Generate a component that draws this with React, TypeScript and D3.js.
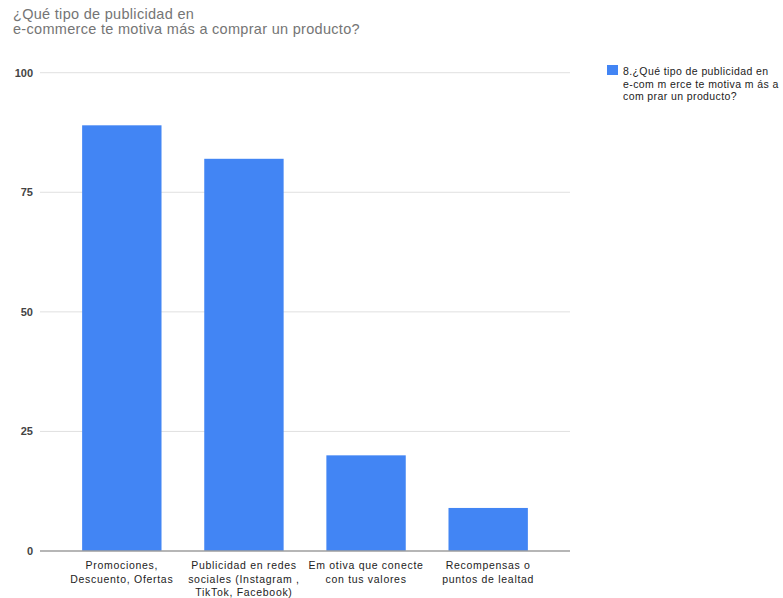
import React from "react";
import * as d3 from "d3";

const categories: string[][] = [
  ["Promociones,", "Descuento, Ofertas"],
  ["Publicidad en redes", "sociales (Instagram ,", "TikTok, Facebook)"],
  ["Em otiva que conecte", "con tus valores"],
  ["Recompensas o", "puntos de lealtad"],
];
const values: number[] = [89, 82, 20, 9];
const yTicks: number[] = [0, 25, 50, 75, 100];
const titleLines: string[] = ["¿Qué tipo de publicidad en", "e-commerce te motiva más a comprar un producto?"];
const legendLines: string[] = ["8.¿Qué tipo de publicidad en", "e-com m erce te motiva m ás a", "com prar un producto?"];

const W = 783;
const H = 598;
const FONT = "'Liberation Sans', Arial, sans-serif";

export default function App() {
  const x = d3
    .scaleBand<number>()
    .domain(values.map((_, i) => i))
    .range([40, 570])
    .paddingInner(0.35)
    .paddingOuter(0.345);
  const y = d3.scaleLinear().domain([0, 100]).range([551, 72.7]);

  return (
    <svg
      width={W}
      height={H}
      style={{ position: "absolute", left: 0, top: 0, background: "#fff" }}
    >
      <rect x={0} y={0} width={W} height={H} fill="#fff" />
      {titleLines.map((t, i) => (
        <text key={i} x={13} y={19 + i * 15} fontFamily={FONT} fontSize={14.5} fill="#757575" letterSpacing={0.3}>
          {t}
        </text>
      ))}
      {yTicks.map((t) => (
        <g key={t}>
          {t !== 0 && (
            <line x1={40} x2={570} y1={y(t)} y2={y(t)} stroke="#e0e0e0" strokeWidth={1} />
          )}
          <text
            x={33}
            y={y(t) + 4}
            textAnchor="end"
            fontFamily={FONT}
            fontSize={11}
            fontWeight="bold"
            fill="#444"
          >
            {t}
          </text>
        </g>
      ))}
      {values.map((v, i) => (
        <rect
          key={i}
          x={x(i)}
          y={y(v)}
          width={x.bandwidth()}
          height={y(0) - y(v)}
          fill="#4285f4"
        />
      ))}
      <line x1={40} x2={570} y1={y(0)} y2={y(0)} stroke="#9e9e9e" strokeWidth={1.3} />
      {categories.map((lines, i) => (
        <text
          key={i}
          textAnchor="middle"
          fontFamily={FONT}
          fontSize={10.5}
          fill="#222"
          letterSpacing={0.7}
        >
          {lines.map((l, j) => (
            <tspan key={j} x={(x(i) as number) + x.bandwidth() / 2} y={569 + j * 13.5}>
              {l}
            </tspan>
          ))}
        </text>
      ))}
      <rect x={607} y={65} width={11} height={10} fill="#4285f4" />
      {legendLines.map((l, i) => (
        <text
          key={i}
          x={623}
          y={75 + i * 12.5}
          fontFamily={FONT}
          fontSize={10.5}
          fill="#222"
          letterSpacing={0.4}
        >
          {l}
        </text>
      ))}
    </svg>
  );
}
